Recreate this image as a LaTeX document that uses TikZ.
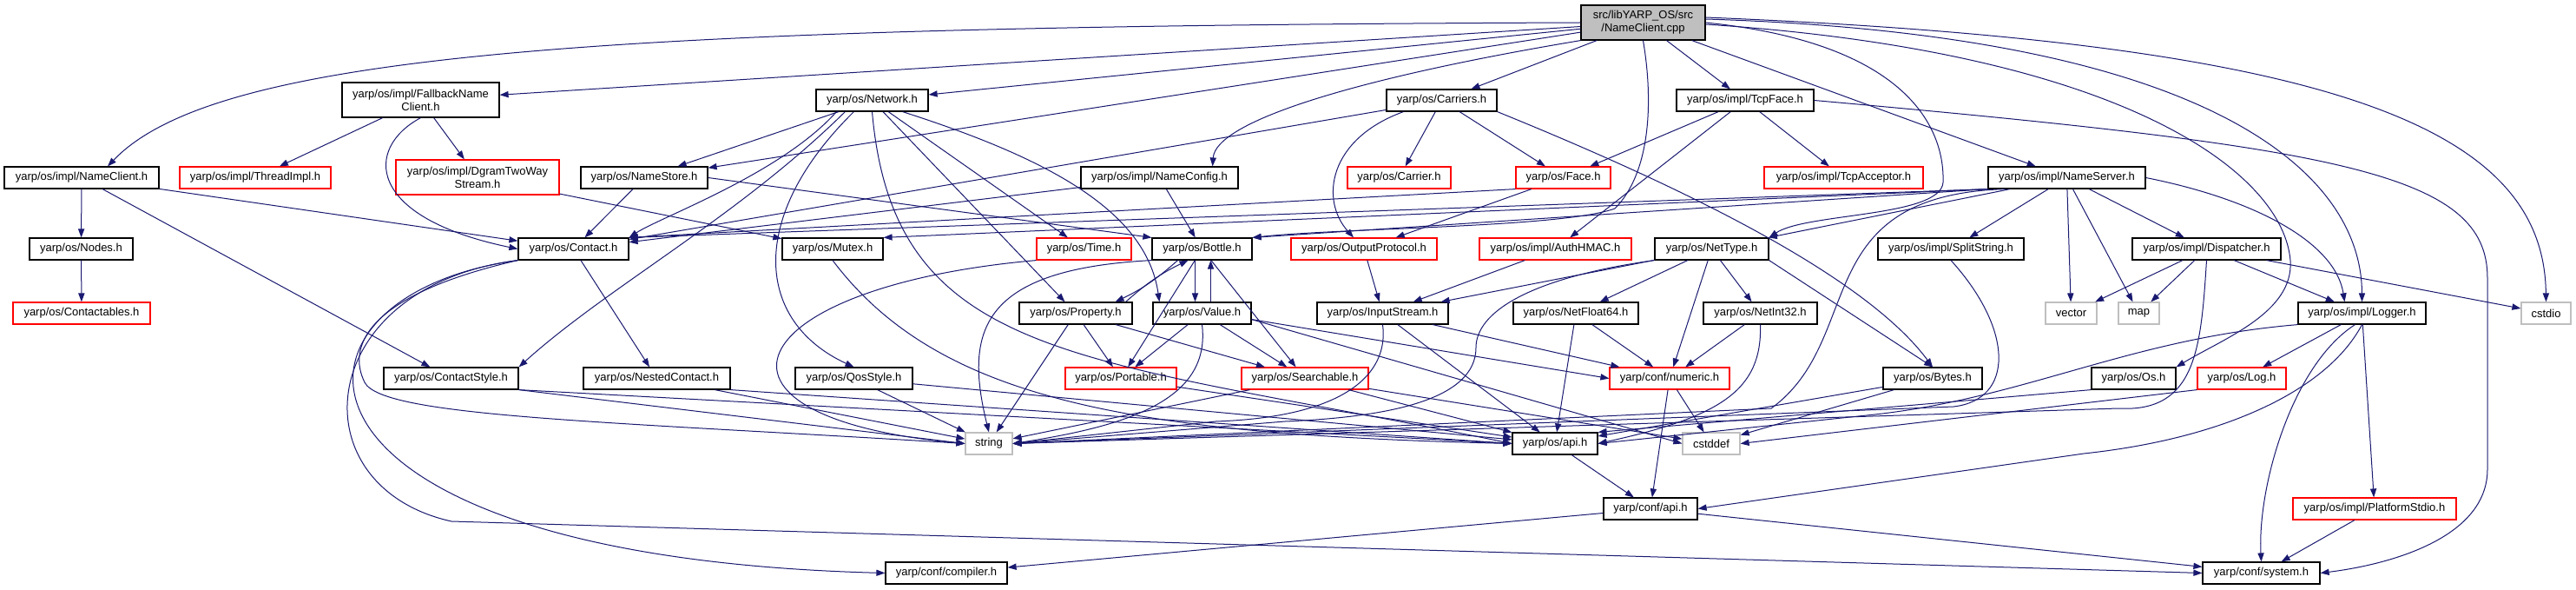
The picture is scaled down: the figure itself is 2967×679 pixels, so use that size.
\documentclass[tikz,border=0pt]{standalone}
\usepackage{fontspec}
\setmainfont{Liberation Sans}
\usetikzlibrary{arrows.meta}
\definecolor{depblue}{HTML}{191970}
\definecolor{hdrgray}{HTML}{BFBFBF}
\newcommand{\hdrfont}{\fontsize{6.5}{7.5}\selectfont}
\tikzset{
  hdr/.style     = {draw=black, fill=white, line width=0.6pt, inner sep=0pt,
                    minimum height=12.5pt, font=\hdrfont, text=black},
  hdrcut/.style  = {hdr, draw=red},
  hdrsys/.style  = {hdr, draw=hdrgray},
  twoline/.style = {align=center, minimum height=20pt},
  dep/.style     = {-{Triangle[length=5pt,width=3.6pt]}, draw=depblue, line width=0.5pt}
}

\begin{document}
\begin{tikzpicture}[x=0.5pt,y=-0.5pt]
  \useasboundingbox (0,0) rectangle (2967,679);
  % headers
  \node[hdr, fill=hdrgray, twoline, minimum width=71.5pt] (root) at (1892.5,26) {src/libYARP\_OS/src\\/NameClient.cpp};
  \node[hdr, twoline, minimum width=90.5pt] (fb) at (484.5,115) {yarp/os/impl/FallbackName\\Client.h};
  \node[hdr, minimum width=64.5pt] (net) at (1004.5,115.5) {yarp/os/Network.h};
  \node[hdr, minimum width=63.5pt] (car) at (1660.5,115.5) {yarp/os/Carriers.h};
  \node[hdr, minimum width=79pt] (tcp) at (2010,115.5) {yarp/os/impl/TcpFace.h};
  \node[hdr, minimum width=89pt] (nc) at (94,204.5) {yarp/os/impl/NameClient.h};
  \node[hdrcut, minimum width=87pt] (thr) at (294,204.5) {yarp/os/impl/ThreadImpl.h};
  \node[hdrcut, twoline, minimum width=94pt] (dgram) at (550,204) {yarp/os/impl/DgramTwoWay\\Stream.h};
  \node[hdr, minimum width=73pt] (ns) at (742,204.5) {yarp/os/NameStore.h};
  \node[hdr, minimum width=90.5pt] (ncfg) at (1335.5,204.5) {yarp/os/impl/NameConfig.h};
  \node[hdrcut, minimum width=59.5pt] (carrier) at (1611.5,204.5) {yarp/os/Carrier.h};
  \node[hdrcut, minimum width=54.5pt] (face) at (1800.5,204.5) {yarp/os/Face.h};
  \node[hdrcut, minimum width=91.5pt] (tacc) at (2123.5,204.5) {yarp/os/impl/TcpAcceptor.h};
  \node[hdr, minimum width=90.5pt] (nsrv) at (2380.5,204.5) {yarp/os/impl/NameServer.h};
  \node[hdr, minimum width=59.5pt] (nodes) at (93.5,286.5) {yarp/os/Nodes.h};
  \node[hdr, minimum width=63.5pt] (contact) at (660.5,286.5) {yarp/os/Contact.h};
  \node[hdr, minimum width=58pt] (mutex) at (959,286.5) {yarp/os/Mutex.h};
  \node[hdrcut, minimum width=54.5pt] (time) at (1248.5,286.5) {yarp/os/Time.h};
  \node[hdr, minimum width=57.5pt] (bottle) at (1384.5,286.5) {yarp/os/Bottle.h};
  \node[hdrcut, minimum width=84pt] (outp) at (1571,286.5) {yarp/os/OutputProtocol.h};
  \node[hdrcut, minimum width=87.5pt] (auth) at (1791.5,286.5) {yarp/os/impl/AuthHMAC.h};
  \node[hdr, minimum width=65.5pt] (nettype) at (1971.5,286.5) {yarp/os/NetType.h};
  \node[hdr, minimum width=84pt] (split) at (2247,286.5) {yarp/os/impl/SplitString.h};
  \node[hdr, minimum width=85.5pt] (disp) at (2541.5,286.5) {yarp/os/impl/Dispatcher.h};
  \node[hdrcut, minimum width=79pt] (ctbl) at (94,360.5) {yarp/os/Contactables.h};
  \node[hdr, minimum width=65pt] (prop) at (1239,360.5) {yarp/os/Property.h};
  \node[hdr, minimum width=56.5pt] (value) at (1384.5,360.5) {yarp/os/Value.h};
  \node[hdr, minimum width=75.5pt] (instr) at (1592.5,360.5) {yarp/os/InputStream.h};
  \node[hdr, minimum width=72pt] (nf64) at (1815,360.5) {yarp/os/NetFloat64.h};
  \node[hdr, minimum width=65.5pt] (ni32) at (2027.5,360.5) {yarp/os/NetInt32.h};
  \node[hdrsys, minimum width=29.5pt] (vector) at (2385.5,360.5) {vector};
  \node[hdrsys, minimum width=23.5pt] (map) at (2463.5,360.5) {map};
  \node[hdr, minimum width=73.5pt] (logger) at (2720.5,360.5) {yarp/os/impl/Logger.h};
  \node[hdrsys, minimum width=28.5pt] (cstdio) at (2932.5,360.5) {cstdio};
  \node[hdr, minimum width=77.5pt] (cstyle) at (519.5,435.5) {yarp/os/ContactStyle.h};
  \node[hdr, minimum width=84.5pt] (nested) at (756.5,435.5) {yarp/os/NestedContact.h};
  \node[hdr, minimum width=67.5pt] (qos) at (983.5,435.5) {yarp/os/QosStyle.h};
  \node[hdrcut, minimum width=64pt] (portable) at (1291,435.5) {yarp/os/Portable.h};
  \node[hdrcut, minimum width=73pt] (search) at (1503,435.5) {yarp/os/Searchable.h};
  \node[hdrcut, minimum width=69pt] (numeric) at (1923,435.5) {yarp/conf/numeric.h};
  \node[hdr, minimum width=57pt] (bytes) at (2226,435.5) {yarp/os/Bytes.h};
  \node[hdr, minimum width=48.5pt] (os) at (2457.5,435.5) {yarp/os/Os.h};
  \node[hdrcut, minimum width=51pt] (log) at (2582,435.5) {yarp/os/Log.h};
  \node[hdrsys, minimum width=27pt] (string) at (1139,510.5) {string};
  \node[hdr, minimum width=49pt] (osapi) at (1791,510.5) {yarp/os/api.h};
  \node[hdrsys, minimum width=33pt] (cstddef) at (1971,510.5) {cstddef};
  \node[hdr, minimum width=54pt] (capi) at (1901,585.5) {yarp/conf/api.h};
  \node[hdrcut, minimum width=94pt] (pstdio) at (2735,585.5) {yarp/os/impl/PlatformStdio.h};
  \node[hdr, minimum width=70pt] (compiler) at (1090,659.5) {yarp/conf/compiler.h};
  \node[hdr, minimum width=67.5pt] (system) at (2604.5,659.5) {yarp/conf/system.h};

  % straight includes
  \foreach \a/\b in {root/fb, root/net, root/ns, root/car, root/tcp, root/nsrv,
      fb/thr, fb/dgram, nc/nodes, nc/contact, nc/cstyle, nodes/ctbl, dgram/mutex,
      ns/contact, net/ns, net/time, net/prop, car/contact, car/carrier, car/face,
      ncfg/bottle, ncfg/contact, face/outp, tcp/face, tcp/tacc, tcp/auth,
      nsrv/nettype, nsrv/split, nsrv/vector, nsrv/map, nsrv/disp,
      bottle/portable, bottle/search, prop/portable, prop/search, prop/string,
      value/portable, value/search, outp/instr, auth/instr, nettype/instr,
      nettype/nf64, nettype/ni32, nettype/numeric, disp/vector, disp/map,
      disp/logger, disp/cstdio, instr/osapi, instr/numeric, nf64/osapi,
      nf64/numeric, ni32/numeric, logger/log, logger/pstdio, contact/nested,
      nested/string, qos/string, qos/osapi, portable/osapi, search/osapi,
      search/string, search/cstddef, numeric/capi, numeric/cstddef, bytes/osapi,
      bytes/cstddef, osapi/capi, capi/compiler, capi/system, pstdio/system}
    \draw[dep] (\a) -- (\b);

  % routed includes
  \draw[dep] (root.west) .. controls (700,30) and (250,60) .. ([xshift=15pt]nc.north);
  \draw[dep] (root.south west) .. controls (1560,90) and (1400,140) .. ([xshift=-15pt]ncfg.north east);
  \draw[dep] (root.south) .. controls (1905,120) and (1900,200) .. (1860,240)
             .. controls (1800,262) and (1550,262) .. (bottle.north east);
  \draw[dep] (root.east) .. controls (2200,50) and (2240,150) .. (2238,210)
             .. controls (2235,250) and (2080,245) .. (nettype.north east);
  \draw[dep] ([yshift=-1pt]root.east) .. controls (2450,60) and (2630,200) .. (2638,300)
             .. controls (2642,360) and (2560,390) .. (os.north east);
  \draw[dep] ([yshift=2pt]root.east) .. controls (2550,40) and (2720,200) .. (logger.north);
  \draw[dep] ([yshift=3pt]root.east) .. controls (2700,50) and (2930,150) .. (cstdio.north);
  \draw[dep] (fb.south) .. controls (420,170) and (420,250) .. (contact.west);
  \draw[dep] (ns.east) -- (bottle.north west);
  \draw[dep] ([xshift=12pt]net.south west) .. controls (900,200) and (760,250) .. (contact.north east);
  \draw[dep] ([xshift=17pt]net.south west) .. controls (850,250) and (700,330) .. (cstyle.north east);
  \draw[dep] ([xshift=22pt]net.south west) .. controls (860,250) and (870,370) .. (qos.north);
  \draw[dep] ([xshift=-15pt]net.south east) .. controls (1200,180) and (1320,240) .. ([xshift=4pt]value.north west);
  \draw[dep] (net.south) .. controls (1030,420) and (1250,410) .. (osapi.west);
  \draw[dep] ([xshift=10pt]car.south west) .. controls (1530,160) and (1520,230) .. ([xshift=-6pt]outp.north);
  \draw[dep] (car.south east) .. controls (1950,220) and (2150,320) .. (bytes.north);
  \draw[dep] (face.south west) -- (contact.north east);
  \draw[dep] (tcp.east) .. controls (2700,170) and (2865,200) .. (2865,320) -- (2865,540)
             .. controls (2865,620) and (2750,650) .. (system.east);
  \draw[dep] (nsrv.south west) -- (contact.north east);
  \draw[dep] (nsrv.south west) -- (mutex.north east);
  \draw[dep] (nsrv.south west) -- (bottle.north east);
  \draw[dep] (nsrv.east) .. controls (2600,230) and (2690,280) .. ([xshift=-10pt]logger.north);
  \draw[dep] ([xshift=10pt]nsrv.south west) .. controls (2080,225) and (2150,390) .. (2040,470) -- (string.east);
  \draw[dep] ([xshift=-14pt]bottle.south) to[bend left=8] ([xshift=-10pt]prop.north east);
  \draw[dep] ([xshift=-4pt]prop.north east) to[bend left=8] ([xshift=-8pt]bottle.south);
  \draw[dep] ([xshift=-4pt]bottle.south) -- ([xshift=-4pt]value.north);
  \draw[dep] ([xshift=5pt]value.north) -- ([xshift=5pt]bottle.south);
  \draw[dep] (bottle.south west) .. controls (1130,310) and (1110,380) .. (string.north);
  \draw[dep] (value.south) .. controls (1395,460) and (1300,490) .. (string.east);
  \draw[dep] ([yshift=3pt]value.south east) -- (numeric.west);
  \draw[dep] ([yshift=3pt]value.south east) -- (cstddef.west);
  \draw[dep] (time.south west) .. controls (850,330) and (780,480) .. (string.west);
  \draw[dep] (mutex.south) .. controls (1080,460) and (1300,500) .. (osapi.west);
  \draw[dep] (contact.south west) .. controls (420,340) and (400,400) .. (420,440)
             .. controls (440,480) and (700,485) .. (string.west);
  \draw[dep] (contact.south west) .. controls (300,340) and (290,640) .. (compiler.west);
  \draw[dep] (contact.south west) .. controls (360,330) and (340,560) .. (520,600) -- (system.west);
  \draw[dep] (cstyle.south east) -- (string.west);
  \draw[dep] (cstyle.south east) -- (osapi.west);
  \draw[dep] (nested.south east) -- (osapi.west);
  \draw[dep] (split.south) .. controls (2320,380) and (2320,460) .. (2250,468) -- (string.east);
  \draw[dep] (disp.south) .. controls (2535,400) and (2530,475) .. (2440,470) -- (string.east);
  \draw[dep] (nettype.south west) .. controls (1760,320) and (1700,360) .. (1700,400)
             .. controls (1700,460) and (1600,480) .. (1480,485) -- (string.east);
  \draw[dep] (nettype.south east) -- (bytes.north);
  \draw[dep] (instr.south) .. controls (1600,430) and (1550,480) .. (1400,485) -- (string.east);
  \draw[dep] (ni32.south) .. controls (2030,450) and (1980,480) .. (osapi.east);
  \draw[dep] (logger.south west) .. controls (2450,390) and (2330,460) .. (2150,478) -- (osapi.east);
  \draw[dep] (logger.south) .. controls (2680,450) and (2560,505) .. (2400,522) -- (capi.east);
  \draw[dep] ([xshift=-4pt]logger.south) .. controls (2640,420) and (2600,560) .. (system.north);
  \draw[dep] (os.south west) -- (osapi.north east);
  \draw[dep] (log.south west) -- (cstddef.east);
\end{tikzpicture}
\end{document}
